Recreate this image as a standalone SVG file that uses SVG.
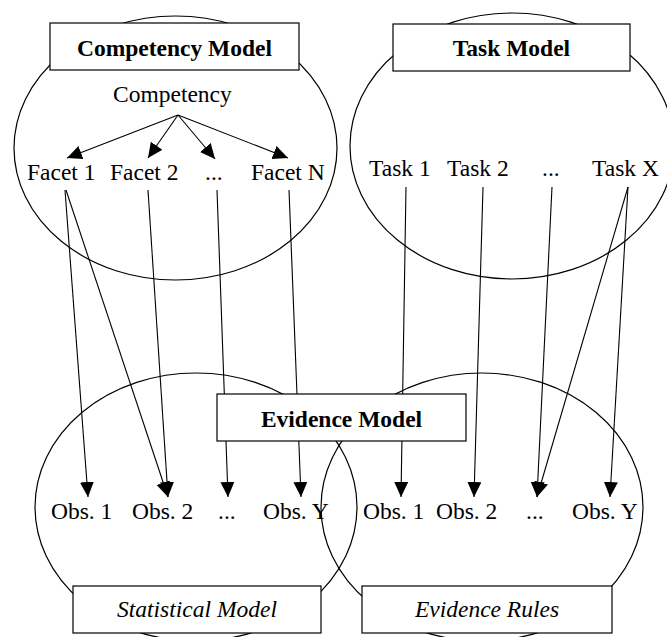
<svg xmlns="http://www.w3.org/2000/svg" width="667" height="637" viewBox="0 0 667 637">
<defs>
<marker id="arr" markerUnits="userSpaceOnUse" markerWidth="16" markerHeight="15" refX="15" refY="7" orient="auto"><path d="M0,0 L15,7 L0,14 z" fill="#000"/></marker>
<style>
.ell{fill:none;stroke:#000;stroke-width:1.2}
.box{fill:#fff;stroke:#000;stroke-width:1.2}
text{font-family:"Liberation Serif","Times New Roman",serif;font-size:23.5px;fill:#000}
.b{font-weight:bold;text-anchor:middle}
.i{font-style:italic;text-anchor:middle}
.c{stroke:#000;stroke-width:1.1;fill:none;marker-end:url(#arr)}
</style>
</defs>
<rect width="667" height="637" fill="#fff"/>
<g id="competency-model-area"><ellipse class="ell" cx="175.5" cy="148" rx="161.5" ry="132"/></g>
<g id="task-model-area"><ellipse class="ell" cx="512" cy="146" rx="162" ry="133"/></g>
<g id="statistical-model-area"><ellipse class="ell" cx="196" cy="507" rx="161" ry="134"/></g>
<g id="evidence-rules-area"><ellipse class="ell" cx="482" cy="507" rx="161" ry="134"/></g>
<g id="competency"><text x="113" y="102">Competency</text></g>
<g id="facet-1"><text x="27" y="180">Facet 1</text></g>
<g id="facet-2"><text x="110" y="180">Facet 2</text></g>
<g id="facet-dots"><text x="205" y="180">...</text></g>
<g id="facet-n"><text x="251" y="180">Facet N</text></g>
<g id="task-1"><text x="369" y="176">Task 1</text></g>
<g id="task-2"><text x="447" y="176">Task 2</text></g>
<g id="task-dots"><text x="542" y="176">...</text></g>
<g id="task-x"><text x="592" y="176">Task X</text></g>
<g id="obs-l1"><text x="51" y="519">Obs. 1</text></g>
<g id="obs-l2"><text x="132" y="519">Obs. 2</text></g>
<g id="obs-ldots"><text x="218" y="519">...</text></g>
<g id="obs-ly"><text x="263" y="519">Obs. Y</text></g>
<g id="obs-r1"><text x="363" y="519">Obs. 1</text></g>
<g id="obs-r2"><text x="436" y="519">Obs. 2</text></g>
<g id="obs-rdots"><text x="526" y="519">...</text></g>
<g id="obs-ry"><text x="572" y="519">Obs. Y</text></g>
<g id="connectors">
<line class="c" x1="178" y1="115" x2="67" y2="158"/>
<line class="c" x1="178" y1="115" x2="148" y2="158"/>
<line class="c" x1="178" y1="115" x2="215" y2="159"/>
<line class="c" x1="178" y1="115" x2="288" y2="158"/>
<line class="c" x1="65" y1="190" x2="88" y2="497"/>
<line class="c" x1="66" y1="190" x2="168" y2="497"/>
<line class="c" x1="148" y1="190" x2="168" y2="497"/>
<line class="c" x1="217" y1="190" x2="228" y2="497"/>
<line class="c" x1="289" y1="190" x2="301" y2="497"/>
<line class="c" x1="406" y1="187" x2="401" y2="497"/>
<line class="c" x1="483" y1="187" x2="474" y2="497"/>
<line class="c" x1="552" y1="187" x2="537" y2="497"/>
<line class="c" x1="628" y1="187" x2="537" y2="497"/>
<line class="c" x1="628" y1="187" x2="610" y2="497"/>
</g>
<g id="competency-model"><rect class="box" x="50" y="23" width="249" height="47"/><text class="b" x="174.5" y="56">Competency Model</text></g>
<g id="task-model"><rect class="box" x="393" y="24" width="237" height="47"/><text class="b" x="511.5" y="56">Task Model</text></g>
<g id="evidence-model"><rect class="box" x="217" y="394" width="249" height="47"/><text class="b" x="341.5" y="427">Evidence Model</text></g>
<g id="statistical-model"><rect class="box" x="73" y="586" width="248" height="47"/><text class="i" x="197" y="617">Statistical Model</text></g>
<g id="evidence-rules"><rect class="box" x="362" y="586" width="250" height="47"/><text class="i" x="487" y="617">Evidence Rules</text></g>
</svg>
